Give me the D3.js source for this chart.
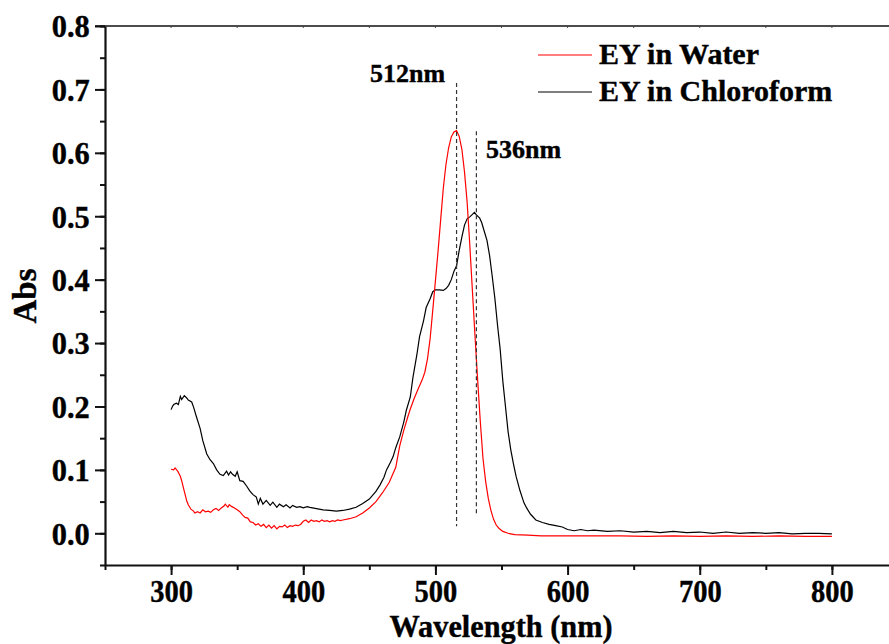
<!DOCTYPE html>
<html>
<head>
<meta charset="utf-8">
<script src="https://cdn.jsdelivr.net/npm/d3@7/dist/d3.min.js"></script>
<style>
  html, body { margin: 0; padding: 0; background: #fff; }
  svg { display: block; }
  text { font-family: "Liberation Serif", "Times New Roman", serif; font-weight: bold; fill: #000; stroke: #000; stroke-width: 0.4; }
</style>
</head>
<body>
<svg id="chart" width="889" height="644"></svg>
<script>
// ---------- data ----------
const xTicks = [300, 400, 500, 600, 700, 800];
const yTicks = [0.0, 0.1, 0.2, 0.3, 0.4, 0.5, 0.6, 0.7, 0.8];
const xLabel = "Wavelength (nm)";
const yLabel = "Abs";
const seriesNames = ["EY in Water", "EY in Chloroform"];
const peakLabels = ["512nm", "536nm"];
const peakLineNm = [516, 531];
const peakLineTop = [0.71, 0.634];
const peakLineBottom = [0.011, 0.031];

const waterNm = [300,302,303,305,307,308,310,312,313,315,317,318,320,322,324,326,328,330,332,334,336,338,340,341,343,344,346,348,350,352,354,356,358,360,362,364,366,368,370,372,374,376,378,380,382,384,386,388,390,392,394,396,398,400,402,404,406,408,410,412,414,416,418,420,422,424,426,428,430,435,440,445,450,455,460,465,470,473,476,479,481,484,487,490,492,494,496,498,500,502,504,506,508,510,512,514,516,518,520,522,524,526,528,530,532,534,536,538,540,542,544,546,548,551,555,560,570,580,600,620,640,660,680,700,720,740,760,780,800];
const waterAbs = [0.101,0.100,0.103,0.098,0.090,0.083,0.066,0.050,0.045,0.038,0.035,0.032,0.034,0.032,0.037,0.034,0.035,0.033,0.037,0.039,0.036,0.040,0.043,0.046,0.041,0.045,0.042,0.040,0.037,0.034,0.029,0.025,0.024,0.018,0.017,0.013,0.015,0.011,0.014,0.009,0.013,0.008,0.012,0.007,0.011,0.010,0.013,0.009,0.012,0.011,0.013,0.012,0.014,0.019,0.021,0.017,0.021,0.019,0.020,0.018,0.021,0.019,0.020,0.018,0.020,0.019,0.021,0.020,0.021,0.023,0.026,0.032,0.040,0.050,0.064,0.080,0.104,0.138,0.162,0.183,0.196,0.213,0.228,0.242,0.254,0.275,0.307,0.352,0.398,0.445,0.495,0.545,0.582,0.608,0.625,0.633,0.635,0.626,0.606,0.570,0.522,0.455,0.382,0.310,0.240,0.175,0.118,0.082,0.055,0.036,0.022,0.013,0.008,0.003,0.000,-0.002,-0.003,-0.004,-0.004,-0.004,-0.004,-0.005,-0.004,-0.005,-0.004,-0.005,-0.004,-0.005,-0.005];

const chloroNm = [300,301,302,304,305.5,307,308,310,312,313,315.6,317,319,322,324,327,329.5,332,334.5,337,339.5,342,343.5,345,346.5,348.5,350,352,354.5,357,359.5,362,364.5,366,367.5,369.5,372,375,377,380,382,385,387,390,392,395,397.5,400,403,405,410,415,420,425,430,435,440,445,450,455,458,461,463,466,468,470,473,476,478,481,483,486,488,491,493,496,498,500,503,506,508,510,512,514,516,518,520,522,524,526,528,529.5,531,533.5,535,537,539,541,543,545,547,549,551,553,555,557,559,561,564,567,569,572,576,581,586,591,596,600,605,610,615,620,630,640,650,660,670,680,690,700,710,720,730,740,750,760,770,780,790,800];
const chloroAbs = [0.195,0.200,0.203,0.205,0.203,0.216,0.211,0.217,0.213,0.210,0.207,0.199,0.185,0.165,0.146,0.125,0.116,0.110,0.100,0.093,0.091,0.098,0.092,0.097,0.093,0.090,0.097,0.083,0.082,0.075,0.067,0.061,0.057,0.046,0.055,0.046,0.052,0.044,0.049,0.041,0.046,0.042,0.045,0.040,0.044,0.041,0.042,0.040,0.042,0.041,0.039,0.037,0.036,0.035,0.036,0.038,0.041,0.047,0.054,0.066,0.076,0.088,0.100,0.112,0.121,0.135,0.152,0.175,0.194,0.215,0.246,0.282,0.310,0.335,0.356,0.370,0.381,0.384,0.384,0.383,0.386,0.391,0.400,0.413,0.422,0.446,0.467,0.486,0.496,0.499,0.503,0.506,0.502,0.497,0.490,0.476,0.462,0.438,0.405,0.370,0.328,0.290,0.240,0.200,0.160,0.132,0.110,0.090,0.067,0.048,0.040,0.030,0.021,0.017,0.014,0.012,0.010,0.006,0.004,0.006,0.004,0.005,0.003,0.004,0.002,0.003,0.001,0.003,0.001,0.002,0.000,0.002,0.000,0.001,0.000,0.001,-0.001,0.000,0.000,-0.001];

// ---------- layout ----------
const svg = d3.select("#chart");
const plotL = 105, plotR = 898, plotT = 26, plotB = 565;
const x = d3.scaleLinear().domain([250, 850]).range([plotL, plotR]);
const y = d3.scaleLinear().domain([-0.05, 0.8]).range([plotB, plotT]);

const xMinor = d3.range(250, 851, 50);
const yMinor = d3.range(-0.05, 0.801, 0.05).map(v => +v.toFixed(2));

// top frame line (thin) with tiny ticks
svg.append("line").attr("x1", plotL - 10).attr("x2", 889).attr("y1", plotT).attr("y2", plotT)
  .attr("stroke", "#111").attr("stroke-width", 1.4);
svg.append("g").selectAll("line").data(xMinor).join("line")
  .attr("x1", d => x(d)).attr("x2", d => x(d)).attr("y1", plotT).attr("y2", plotT + 2)
  .attr("stroke", "#444").attr("stroke-width", 1);

// minor ticks
svg.append("g").attr("transform", `translate(${plotL},0)`)
  .call(d3.axisLeft(y).tickValues(yMinor).tickSize(5).tickSizeOuter(0).tickFormat(""))
  .call(g => g.select(".domain").remove())
  .call(g => g.selectAll("line").attr("stroke", "#111").attr("stroke-width", 2));
svg.append("g").attr("transform", `translate(0,${plotB})`)
  .call(d3.axisBottom(x).tickValues(xMinor).tickSize(5).tickSizeOuter(0).tickFormat(""))
  .call(g => g.select(".domain").remove())
  .call(g => g.selectAll("line").attr("stroke", "#111").attr("stroke-width", 2));

// major y axis
const gy = svg.append("g").attr("transform", `translate(${plotL},0)`)
  .call(d3.axisLeft(y).tickValues(yTicks).tickSize(10).tickSizeOuter(0).tickFormat(d3.format(".1f")));
gy.select(".domain").attr("stroke", "#111").attr("stroke-width", 2.2);
gy.selectAll(".tick line").attr("stroke", "#111").attr("stroke-width", 2);
gy.selectAll(".tick text").attr("font-size", 32).attr("x", -16).attr("dy", "0.34em")
  .attr("transform", "scale(0.95,1)");

// major x axis
const gx = svg.append("g").attr("transform", `translate(0,${plotB})`)
  .call(d3.axisBottom(x).tickValues(xTicks).tickSize(10).tickSizeOuter(0));
gx.select(".domain").attr("stroke", "#111").attr("stroke-width", 2.2);
gx.selectAll(".tick line").attr("stroke", "#111").attr("stroke-width", 2);
gx.selectAll(".tick text").attr("font-size", 32).attr("y", 37.5).attr("dy", 0)
  .attr("transform", "scale(0.89,1)");

// axis titles
svg.append("text").attr("x", 501).attr("y", 637).attr("text-anchor", "middle")
  .attr("font-size", 32).attr("textLength", 223).attr("lengthAdjust", "spacingAndGlyphs").text(xLabel);
svg.append("text").attr("transform", "translate(36,296) rotate(-90)").attr("text-anchor", "middle")
  .attr("font-size", 33).text(yLabel);

// curves
const line = d3.line().x(d => x(d[0])).y(d => y(d[1]));
const waterData = waterNm.map((n, i) => [n, waterAbs[i]]);
const chloroData = chloroNm.map((n, i) => [n, chloroAbs[i]]);
svg.append("path").datum(chloroData).attr("d", line)
  .attr("fill", "none").attr("stroke", "#000").attr("stroke-width", 1.2);
svg.append("path").datum(waterData).attr("d", line)
  .attr("fill", "none").attr("stroke", "#ff0000").attr("stroke-width", 1.2);

// peak dashed lines
peakLineNm.forEach((n, i) => {
  svg.append("line").attr("x1", x(n)).attr("x2", x(n))
    .attr("y1", y(peakLineTop[i])).attr("y2", y(peakLineBottom[i]))
    .attr("stroke", "#333").attr("stroke-width", 1.2).attr("stroke-dasharray", "4,3");
});
svg.append("text").attr("x", 370).attr("y", 82).attr("font-size", 26).text(peakLabels[0]);
svg.append("text").attr("x", 486).attr("y", 158).attr("font-size", 26).text(peakLabels[1]);

// legend
const legColors = ["#ff0000", "#000"];
const legY = [55, 92];
seriesNames.forEach((s, i) => {
  svg.append("line").attr("x1", 538).attr("x2", 592).attr("y1", legY[i]).attr("y2", legY[i])
    .attr("stroke", legColors[i]).attr("stroke-width", 1.2);
  svg.append("text").attr("x", 599).attr("y", legY[i] + 9).attr("font-size", 30).text(s);
});
</script>
</body>
</html>
